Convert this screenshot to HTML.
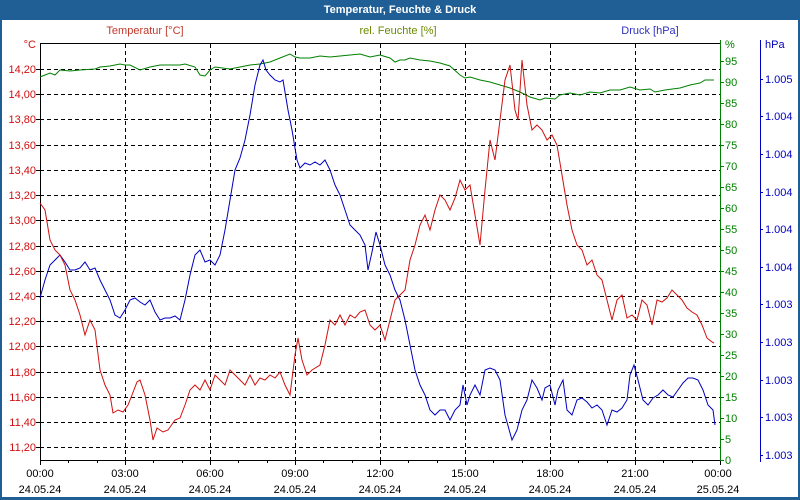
<!DOCTYPE html>
<html><head><meta charset="utf-8"><style>
body{margin:0;background:#fff}
svg{display:block;font-family:"Liberation Sans",sans-serif;font-size:11px}
</style></head><body>
<svg width="800" height="500" xmlns="http://www.w3.org/2000/svg">
<rect x="0" y="0" width="800" height="500" fill="#1f5f96"/>
<rect x="2" y="20" width="796" height="477" fill="#fff"/>
<text x="400" y="13" fill="#fff" font-weight="bold" text-anchor="middle">Temperatur, Feuchte &amp; Druck</text>
<text x="145" y="34" fill="#c0392b" text-anchor="middle">Temperatur [°C]</text>
<text x="398" y="34" fill="#6a8a00" text-anchor="middle">rel. Feuchte [%]</text>
<text x="650" y="34" fill="#3030c0" text-anchor="middle">Druck [hPa]</text>
<g stroke="#000" stroke-dasharray="4,3" stroke-width="1">
<line x1="40" y1="69.5" x2="720" y2="69.5"/><line x1="40" y1="94.5" x2="720" y2="94.5"/><line x1="40" y1="119.5" x2="720" y2="119.5"/><line x1="40" y1="145.5" x2="720" y2="145.5"/><line x1="40" y1="170.5" x2="720" y2="170.5"/><line x1="40" y1="195.5" x2="720" y2="195.5"/><line x1="40" y1="220.5" x2="720" y2="220.5"/><line x1="40" y1="246.5" x2="720" y2="246.5"/><line x1="40" y1="271.5" x2="720" y2="271.5"/><line x1="40" y1="296.5" x2="720" y2="296.5"/><line x1="40" y1="321.5" x2="720" y2="321.5"/><line x1="40" y1="346.5" x2="720" y2="346.5"/><line x1="40" y1="372.5" x2="720" y2="372.5"/><line x1="40" y1="397.5" x2="720" y2="397.5"/><line x1="40" y1="422.5" x2="720" y2="422.5"/><line x1="40" y1="447.5" x2="720" y2="447.5"/>
<line x1="125.5" y1="44" x2="125.5" y2="460"/><line x1="210.5" y1="44" x2="210.5" y2="460"/><line x1="295.5" y1="44" x2="295.5" y2="460"/><line x1="380.5" y1="44" x2="380.5" y2="460"/><line x1="465.5" y1="44" x2="465.5" y2="460"/><line x1="550.5" y1="44" x2="550.5" y2="460"/><line x1="635.5" y1="44" x2="635.5" y2="460"/>
</g>
<g stroke="#000" stroke-width="1" fill="none">
<line x1="40" y1="43.5" x2="720" y2="43.5"/>
<line x1="40.5" y1="44" x2="40.5" y2="460"/>
<line x1="40" y1="460.5" x2="720" y2="460.5"/>
<path d="M40.5 460v5M68.5 460v3M97.5 460v3M125.5 460v5M153.5 460v3M182.5 460v3M210.5 460v5M238.5 460v3M267.5 460v3M295.5 460v5M323.5 460v3M352.5 460v3M380.5 460v5M408.5 460v3M437.5 460v3M465.5 460v5M493.5 460v3M522.5 460v3M550.5 460v5M578.5 460v3M607.5 460v3M635.5 460v5M663.5 460v3M692.5 460v3M720.5 460v5"/>
<path d="M36 69.5h4M36 94.5h4M36 119.5h4M36 145.5h4M36 170.5h4M36 195.5h4M36 220.5h4M36 246.5h4M36 271.5h4M36 296.5h4M36 321.5h4M36 346.5h4M36 372.5h4M36 397.5h4M36 422.5h4M36 447.5h4"/>
</g>
<line x1="720.5" y1="40" x2="720.5" y2="460" stroke="#008000"/>
<path d="M720 61.5h4M720 82.5h4M720 103.5h4M720 124.5h4M720 145.5h4M720 166.5h4M720 187.5h4M720 208.5h4M720 229.5h4M720 250.5h4M720 271.5h4M720 292.5h4M720 313.5h4M720 334.5h4M720 355.5h4M720 376.5h4M720 397.5h4M720 418.5h4M720 439.5h4M720 460.5h4" stroke="#008000"/>
<line x1="760.5" y1="40" x2="760.5" y2="462" stroke="#0000c0"/>
<path d="M760 79.5h3M760 116.5h3M760 154.5h3M760 192.5h3M760 229.5h3M760 267.5h3M760 304.5h3M760 342.5h3M760 380.5h3M760 417.5h3M760 455.5h3" stroke="#0000c0"/>
<g fill="#d01010" text-anchor="end">
<text x="36" y="48">°C</text><text x="36" y="73">14,20</text><text x="36" y="98">14,00</text><text x="36" y="123">13,80</text><text x="36" y="149">13,60</text><text x="36" y="174">13,40</text><text x="36" y="199">13,20</text><text x="36" y="224">13,00</text><text x="36" y="250">12,80</text><text x="36" y="275">12,60</text><text x="36" y="300">12,40</text><text x="36" y="325">12,20</text><text x="36" y="350">12,00</text><text x="36" y="376">11,80</text><text x="36" y="401">11,60</text><text x="36" y="426">11,40</text><text x="36" y="451">11,20</text>
</g>
<g fill="#008000">
<text x="725" y="48">%</text><text x="725" y="65">95</text><text x="725" y="86">90</text><text x="725" y="107">85</text><text x="725" y="128">80</text><text x="725" y="149">75</text><text x="725" y="170">70</text><text x="725" y="191">65</text><text x="725" y="212">60</text><text x="725" y="233">55</text><text x="725" y="254">50</text><text x="725" y="275">45</text><text x="725" y="296">40</text><text x="725" y="317">35</text><text x="725" y="338">30</text><text x="725" y="359">25</text><text x="725" y="380">20</text><text x="725" y="401">15</text><text x="725" y="422">10</text><text x="725" y="443">5</text><text x="725" y="464">0</text>
</g>
<g fill="#0000c0">
<text x="765" y="48">hPa</text><text x="765" y="83">1.005</text><text x="765" y="120">1.004</text><text x="765" y="158">1.004</text><text x="765" y="196">1.004</text><text x="765" y="233">1.004</text><text x="765" y="271">1.004</text><text x="765" y="308">1.003</text><text x="765" y="346">1.003</text><text x="765" y="384">1.003</text><text x="765" y="421">1.003</text><text x="765" y="459">1.003</text>
</g>
<g fill="#000" text-anchor="middle">
<text x="40" y="477">00:00</text><text x="125" y="477">03:00</text><text x="210" y="477">06:00</text><text x="295" y="477">09:00</text><text x="380" y="477">12:00</text><text x="465" y="477">15:00</text><text x="550" y="477">18:00</text><text x="635" y="477">21:00</text><text x="718" y="477">00:00</text>
<text x="40" y="493">24.05.24</text><text x="125" y="493">24.05.24</text><text x="210" y="493">24.05.24</text><text x="295" y="493">24.05.24</text><text x="380" y="493">24.05.24</text><text x="465" y="493">24.05.24</text><text x="550" y="493">24.05.24</text><text x="635" y="493">24.05.24</text><text x="718" y="493">25.05.24</text>
</g>
<polyline fill="none" stroke="#008000" points="40,77 45,75 50,73 55,75 60,70 70,71 80,70 95,69 100,67 110,66 120,64 125,65 130,65 140,70 150,67 160,65 180,65 185,64 195,67 200,75 205,76 210,70 215,67 230,69 240,67 250,65 260,64 270,62 280,58 290,54 295,57 300,58 310,58 320,56 330,57 340,56 350,55 360,54 370,57 380,55 390,58 395,62 400,60 405,60 410,58 420,60 430,61 440,63 450,66 460,75 465,78 470,77 480,80 490,82 500,85 510,88 520,92 530,97 540,100 545,98 555,99 560,95 570,93 580,95 590,92 600,93 610,90 620,90 630,87 640,90 650,89 655,92 665,90 680,88 690,85 700,83 705,80 714,80"/>
<polyline fill="none" stroke="#0000c0" points="40,298 45,280 50,265 55,260 60,255 65,262 70,270 75,270 80,268 85,262 90,270 95,268 100,280 105,290 110,300 115,315 120,318 125,310 130,300 135,298 140,302 145,305 150,300 155,312 160,320 165,318 170,318 175,316 180,320 185,300 190,275 195,255 200,250 205,262 210,260 215,265 220,255 225,230 230,200 235,170 240,158 245,140 250,115 255,85 260,65 263,60 266,70 270,75 275,80 280,82 283,80 288,110 292,130 297,160 300,168 305,163 310,165 315,162 320,165 325,160 330,170 335,185 340,195 345,210 350,225 355,230 360,235 365,245 368,270 372,252 376,232 380,245 385,265 390,275 395,290 400,300 405,320 410,345 415,370 420,385 425,395 430,410 435,415 440,410 445,410 450,420 455,410 460,405 463,385 467,405 470,395 475,385 480,395 485,370 490,368 495,370 500,380 505,415 512,440 517,430 522,410 527,400 532,380 537,388 542,400 545,388 550,385 555,405 558,390 563,380 567,410 572,415 577,400 582,398 587,402 592,408 597,405 602,410 607,425 612,410 617,412 622,408 627,400 630,375 634,365 638,380 643,400 648,405 653,398 658,395 663,390 668,395 673,397 678,390 683,383 688,378 693,378 698,380 703,390 708,405 713,410 715,425"/>
<polyline fill="none" stroke="#d01010" points="40,203 45,210 50,240 55,250 60,255 65,265 70,290 75,300 80,315 85,335 90,320 95,330 100,370 105,385 110,395 113,413 118,410 123,412 128,405 132,395 137,382 140,380 145,395 150,420 153,440 157,428 163,432 168,430 175,420 180,418 185,405 190,390 195,385 200,390 205,380 210,390 215,375 220,380 225,385 230,370 235,375 240,380 245,385 250,375 255,385 260,378 265,380 270,375 275,378 280,372 285,385 290,395 295,355 298,338 302,360 307,375 312,370 320,365 325,345 330,320 335,325 340,315 345,325 350,315 355,318 360,312 365,310 370,325 375,330 380,325 385,340 390,320 395,300 400,295 405,290 410,260 415,245 420,225 425,215 430,230 435,210 440,195 445,200 450,210 455,198 460,180 465,190 470,185 475,215 480,245 485,190 490,140 495,160 500,120 505,80 510,65 515,110 518,120 522,60 527,105 532,130 537,125 542,130 547,140 552,135 557,145 562,175 567,205 572,230 577,245 582,250 587,265 592,260 597,275 602,280 607,300 612,320 617,300 622,295 627,318 632,315 637,320 642,300 647,305 652,325 657,300 662,302 667,298 672,290 677,295 682,300 687,308 692,312 697,315 702,325 707,338 712,342 714,343"/>
</svg>
</body></html>
